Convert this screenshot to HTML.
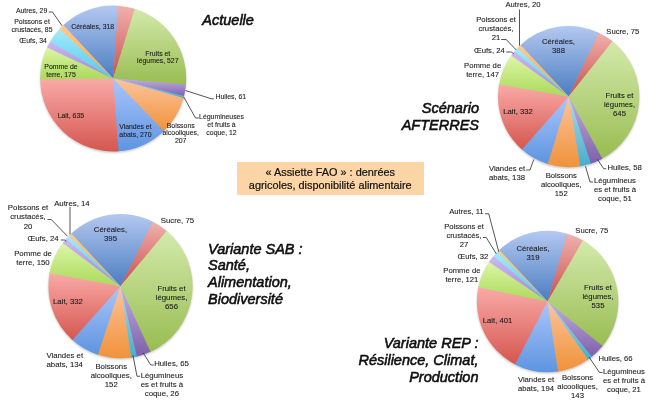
<!DOCTYPE html>
<html lang="fr"><head><meta charset="utf-8"><title>Assiette FAO</title>
<style>
html,body{margin:0;padding:0;background:#fff;}
body{width:649px;height:400px;overflow:hidden;position:relative;font-family:"Liberation Sans",sans-serif;}
svg{position:absolute;left:0;top:0;display:block;}
svg text{font-family:"Liberation Sans",sans-serif;fill:#1c1c1c;stroke:#1c1c1c;stroke-width:0.1px;}
svg text.t{font-style:italic;fill:#0c0c0c;stroke:#0c0c0c;stroke-width:0.55px;}
.box{position:absolute;left:237px;top:162px;width:186.5px;height:33px;background:#FBD5A6;color:#111;
 font-size:10.9px;line-height:12.5px;text-align:center;box-sizing:border-box;padding-top:4.4px;white-space:nowrap;-webkit-text-stroke:0.2px #111;}
</style></head><body>
<svg width="649" height="400" viewBox="0 0 649 400">
<defs>
<filter id="sh" x="-10%" y="-10%" width="120%" height="125%"><feGaussianBlur stdDeviation="1.0"/></filter>
<filter id="soft"><feGaussianBlur stdDeviation="0.35"/></filter>
<filter id="tb" x="-5%" y="-5%" width="110%" height="110%"><feGaussianBlur stdDeviation="0.3"/></filter>
<linearGradient id="gcer" x1="0" y1="0" x2="0" y2="1"><stop offset="0" stop-color="#B4C8F1"/><stop offset="1" stop-color="#4A7DC0"/></linearGradient>
<linearGradient id="gsuc" x1="0" y1="0" x2="0" y2="1"><stop offset="0" stop-color="#F1B1AD"/><stop offset="1" stop-color="#C94F4C"/></linearGradient>
<linearGradient id="gfru" x1="0" y1="0" x2="0" y2="1"><stop offset="0" stop-color="#D3EAAB"/><stop offset="1" stop-color="#98BC51"/></linearGradient>
<linearGradient id="ghui" x1="0" y1="0" x2="0" y2="1"><stop offset="0" stop-color="#C0AEE0"/><stop offset="1" stop-color="#7E5FAA"/></linearGradient>
<linearGradient id="gleg" x1="0" y1="0" x2="0" y2="1"><stop offset="0" stop-color="#A9DDEE"/><stop offset="1" stop-color="#46AECB"/></linearGradient>
<linearGradient id="gboi" x1="0" y1="0" x2="0" y2="1"><stop offset="0" stop-color="#FDC49C"/><stop offset="1" stop-color="#F0923A"/></linearGradient>
<linearGradient id="gvia" x1="0" y1="0" x2="0" y2="1"><stop offset="0" stop-color="#A9C6FB"/><stop offset="1" stop-color="#5E94E0"/></linearGradient>
<linearGradient id="glai" x1="0" y1="0" x2="0" y2="1"><stop offset="0" stop-color="#FAABA8"/><stop offset="1" stop-color="#D5564F"/></linearGradient>
<linearGradient id="gpom" x1="0" y1="0" x2="0" y2="1"><stop offset="0" stop-color="#DDF7A6"/><stop offset="1" stop-color="#ABD95C"/></linearGradient>
<linearGradient id="goeu" x1="0" y1="0" x2="0" y2="1"><stop offset="0" stop-color="#CDB8F2"/><stop offset="1" stop-color="#A585D6"/></linearGradient>
<linearGradient id="gpoi" x1="0" y1="0" x2="0" y2="1"><stop offset="0" stop-color="#A5EBFA"/><stop offset="1" stop-color="#55C8E8"/></linearGradient>
<linearGradient id="gaut" x1="0" y1="0" x2="0" y2="1"><stop offset="0" stop-color="#FFCB8D"/><stop offset="1" stop-color="#F9A348"/></linearGradient>
</defs>
<circle cx="113.2" cy="79.8" r="73.0" fill="#000" opacity="0.22" filter="url(#sh)"/>
<g filter="url(#soft)">
<path d="M113.20,78.50 L62.67,25.81 A73.0,73.0 0 0 1 119.13,5.74 Z" fill="url(#gcer)"/>
<path d="M113.20,78.50 L118.11,5.67 A73.0,73.0 0 0 1 135.66,9.04 Z" fill="url(#gsuc)"/>
<path d="M113.20,78.50 L134.69,8.74 A73.0,73.0 0 0 1 185.85,85.60 Z" fill="url(#gfru)"/>
<path d="M113.20,78.50 L185.95,84.58 A73.0,73.0 0 0 1 183.85,96.86 Z" fill="url(#ghui)"/>
<path d="M113.20,78.50 L184.10,95.88 A73.0,73.0 0 0 1 183.25,99.04 Z" fill="url(#gleg)"/>
<path d="M113.20,78.50 L183.53,98.06 A73.0,73.0 0 0 1 163.13,131.75 Z" fill="url(#gboi)"/>
<path d="M113.20,78.50 L163.87,131.05 A73.0,73.0 0 0 1 117.49,151.37 Z" fill="url(#gvia)"/>
<path d="M113.20,78.50 L118.51,151.31 A73.0,73.0 0 0 1 40.20,78.24 Z" fill="url(#glai)"/>
<path d="M113.20,78.50 L40.20,79.26 A73.0,73.0 0 0 1 47.58,46.51 Z" fill="url(#gpom)"/>
<path d="M113.20,78.50 L47.14,47.43 A73.0,73.0 0 0 1 50.63,40.90 Z" fill="url(#goeu)"/>
<path d="M113.20,78.50 L50.11,41.78 A73.0,73.0 0 0 1 60.27,28.23 Z" fill="url(#gpoi)"/>
<path d="M113.20,78.50 L59.57,28.97 A73.0,73.0 0 0 1 63.41,25.11 Z" fill="url(#gaut)"/>
</g>
<circle cx="568.7" cy="97.89999999999999" r="70.6" fill="#000" opacity="0.22" filter="url(#sh)"/>
<g filter="url(#soft)">
<path d="M568.70,96.60 L519.83,45.64 A70.6,70.6 0 0 1 599.54,33.09 Z" fill="url(#gcer)"/>
<path d="M568.70,96.60 L598.65,32.67 A70.6,70.6 0 0 1 613.19,41.79 Z" fill="url(#gsuc)"/>
<path d="M568.70,96.60 L612.43,41.17 A70.6,70.6 0 0 1 601.54,159.10 Z" fill="url(#gfru)"/>
<path d="M568.70,96.60 L602.41,158.63 A70.6,70.6 0 0 1 589.98,163.92 Z" fill="url(#ghui)"/>
<path d="M568.70,96.60 L590.91,163.61 A70.6,70.6 0 0 1 579.24,166.41 Z" fill="url(#gleg)"/>
<path d="M568.70,96.60 L580.22,166.25 A70.6,70.6 0 0 1 546.77,163.71 Z" fill="url(#gboi)"/>
<path d="M568.70,96.60 L547.71,164.01 A70.6,70.6 0 0 1 521.17,148.81 Z" fill="url(#gvia)"/>
<path d="M568.70,96.60 L521.91,149.46 A70.6,70.6 0 0 1 499.30,83.63 Z" fill="url(#glai)"/>
<path d="M568.70,96.60 L499.13,84.60 A70.6,70.6 0 0 1 511.87,54.71 Z" fill="url(#gpom)"/>
<path d="M568.70,96.60 L511.29,55.51 A70.6,70.6 0 0 1 515.10,50.65 Z" fill="url(#goeu)"/>
<path d="M568.70,96.60 L514.46,51.40 A70.6,70.6 0 0 1 518.16,47.30 Z" fill="url(#gpoi)"/>
<path d="M568.70,96.60 L517.48,48.01 A70.6,70.6 0 0 1 520.55,44.97 Z" fill="url(#gaut)"/>
</g>
<circle cx="120.5" cy="287.5" r="72.1" fill="#000" opacity="0.22" filter="url(#sh)"/>
<g filter="url(#soft)">
<path d="M120.50,286.20 L70.60,234.16 A72.1,72.1 0 0 1 153.68,222.19 Z" fill="url(#gcer)"/>
<path d="M120.50,286.20 L152.79,221.73 A72.1,72.1 0 0 1 167.44,231.47 Z" fill="url(#gsuc)"/>
<path d="M120.50,286.20 L166.67,230.82 A72.1,72.1 0 0 1 149.58,352.18 Z" fill="url(#gfru)"/>
<path d="M120.50,286.20 L150.50,351.76 A72.1,72.1 0 0 1 135.90,356.64 Z" fill="url(#ghui)"/>
<path d="M120.50,286.20 L136.88,356.41 A72.1,72.1 0 0 1 130.22,357.64 Z" fill="url(#gleg)"/>
<path d="M120.50,286.20 L131.22,357.50 A72.1,72.1 0 0 1 96.99,354.36 Z" fill="url(#gboi)"/>
<path d="M120.50,286.20 L97.94,354.68 A72.1,72.1 0 0 1 71.65,339.23 Z" fill="url(#gvia)"/>
<path d="M120.50,286.20 L72.40,339.91 A72.1,72.1 0 0 1 49.76,272.26 Z" fill="url(#glai)"/>
<path d="M120.50,286.20 L49.57,273.25 A72.1,72.1 0 0 1 63.36,242.23 Z" fill="url(#gpom)"/>
<path d="M120.50,286.20 L62.75,243.03 A72.1,72.1 0 0 1 66.76,238.13 Z" fill="url(#goeu)"/>
<path d="M120.50,286.20 L66.09,238.89 A72.1,72.1 0 0 1 69.81,234.92 Z" fill="url(#gpoi)"/>
<path d="M120.50,286.20 L69.10,235.63 A72.1,72.1 0 0 1 71.33,233.47 Z" fill="url(#gaut)"/>
</g>
<circle cx="547.6" cy="302.90000000000003" r="70.7" fill="#000" opacity="0.22" filter="url(#sh)"/>
<g filter="url(#soft)">
<path d="M547.60,301.60 L498.67,250.57 A70.7,70.7 0 0 1 568.09,233.93 Z" fill="url(#gcer)"/>
<path d="M547.60,301.60 L567.14,233.65 A70.7,70.7 0 0 1 583.72,240.82 Z" fill="url(#gsuc)"/>
<path d="M547.60,301.60 L582.87,240.33 A70.7,70.7 0 0 1 601.96,346.81 Z" fill="url(#gfru)"/>
<path d="M547.60,301.60 L602.58,346.04 A70.7,70.7 0 0 1 591.16,357.29 Z" fill="url(#ghui)"/>
<path d="M547.60,301.60 L591.93,356.67 A70.7,70.7 0 0 1 587.29,360.11 Z" fill="url(#gleg)"/>
<path d="M547.60,301.60 L588.10,359.55 A70.7,70.7 0 0 1 557.05,371.67 Z" fill="url(#gboi)"/>
<path d="M547.60,301.60 L558.03,371.53 A70.7,70.7 0 0 1 514.16,363.89 Z" fill="url(#gvia)"/>
<path d="M547.60,301.60 L515.03,364.35 A70.7,70.7 0 0 1 478.56,286.36 Z" fill="url(#glai)"/>
<path d="M547.60,301.60 L478.36,287.33 A70.7,70.7 0 0 1 489.58,261.21 Z" fill="url(#gpom)"/>
<path d="M547.60,301.60 L489.02,262.02 A70.7,70.7 0 0 1 494.05,255.43 Z" fill="url(#goeu)"/>
<path d="M547.60,301.60 L493.41,256.19 A70.7,70.7 0 0 1 498.28,250.95 Z" fill="url(#gpoi)"/>
<path d="M547.60,301.60 L497.58,251.64 A70.7,70.7 0 0 1 499.38,249.89 Z" fill="url(#gaut)"/>
</g>
<g fill="none" stroke="#2a2a2a" stroke-width="0.8">
<polyline points="48.75,12 52.5,12 62,25.75"/>
<polyline points="185.5,90.5 211.25,98.75 213.75,98.75"/>
<polyline points="183.75,97 195.5,118 198.75,118"/>
<polyline points="519.5,9.5 519.5,45.75"/>
<polyline points="501.25,39.5 506.25,39.5 516.25,50"/>
<polyline points="506.25,52 511.25,52 513.75,53.75"/>
<polyline points="526.25,170 530,170 533.75,159.5"/>
<polyline points="597.5,159.5 603.75,168.75 606.25,168.75"/>
<polyline points="585.5,166.25 590,182 593,182"/>
<polyline points="70,207 70,234.5"/>
<polyline points="47.5,219.5 51.25,219.5 67.5,236.25"/>
<polyline points="60.75,240 64.5,240 66.25,241.25"/>
<polyline points="143.25,353 150.75,365 153.75,365"/>
<polyline points="133,355.5 137,376.25 140,376.25"/>
<polyline points="485,213.75 488.75,213.75 498.75,251.75"/>
<polyline points="483,237.5 486.25,237.5 496.25,253.75"/>
<polyline points="589,357 599.5,372.5 602.5,372.5"/>
</g>
<g font-size="6.9" filter="url(#tb)">
<text x="31.6" y="12.50" text-anchor="middle">Autres, 29</text>
<text x="32.0" y="24.25" text-anchor="middle">Poissons et</text>
<text x="32.0" y="32.05" text-anchor="middle">crustacés, 85</text>
<text x="33.1" y="43.00" text-anchor="middle">Œufs, 34</text>
<text x="92.75" y="28.75" text-anchor="middle">Céréales, 318</text>
<text x="61.0" y="69.25" text-anchor="middle">Pomme de</text>
<text x="61.0" y="77.05" text-anchor="middle">terre, 175</text>
<text x="157.8" y="55.50" text-anchor="middle">Fruits et</text>
<text x="157.8" y="63.30" text-anchor="middle">légumes, 527</text>
<text x="230.75" y="99.25" text-anchor="middle">Huiles, 61</text>
<text x="221.5" y="118.90" text-anchor="middle">Légumineuses</text>
<text x="221.5" y="126.70" text-anchor="middle">et fruits à</text>
<text x="221.5" y="134.50" text-anchor="middle">coque, 12</text>
<text x="180.7" y="127.50" text-anchor="middle">Boissons</text>
<text x="180.7" y="135.30" text-anchor="middle">alcooliques,</text>
<text x="180.7" y="143.10" text-anchor="middle">207</text>
<text x="135.4" y="128.75" text-anchor="middle">Viandes et</text>
<text x="135.4" y="136.55" text-anchor="middle">abats, 270</text>
<text x="70.9" y="117.50" text-anchor="middle">Lait, 635</text>
</g>
<g font-size="7.7" filter="url(#tb)">
<text x="523.0" y="7.00" text-anchor="middle">Autres, 20</text>
<text x="496.0" y="22.00" text-anchor="middle">Poissons et</text>
<text x="496.0" y="31.20" text-anchor="middle">crustacés,</text>
<text x="496.0" y="40.40" text-anchor="middle">21</text>
<text x="489.4" y="53.00" text-anchor="middle">Œufs, 24</text>
<text x="482.6" y="68.00" text-anchor="middle">Pomme de</text>
<text x="482.6" y="77.20" text-anchor="middle">terre, 147</text>
<text x="558.5" y="43.75" text-anchor="middle">Céréales,</text>
<text x="558.5" y="52.95" text-anchor="middle">388</text>
<text x="622.75" y="34.00" text-anchor="middle">Sucre, 75</text>
<text x="619.5" y="98.00" text-anchor="middle">Fruits et</text>
<text x="619.5" y="107.20" text-anchor="middle">légumes,</text>
<text x="619.5" y="116.40" text-anchor="middle">645</text>
<text x="518.0" y="113.75" text-anchor="middle">Lait, 332</text>
<text x="507.0" y="170.75" text-anchor="middle">Viandes et</text>
<text x="507.0" y="179.95" text-anchor="middle">abats, 138</text>
<text x="561.25" y="177.50" text-anchor="middle">Boissons</text>
<text x="561.25" y="186.70" text-anchor="middle">alcooliques,</text>
<text x="561.25" y="195.90" text-anchor="middle">152</text>
<text x="624.6" y="170.00" text-anchor="middle">Huiles, 58</text>
<text x="615.0" y="182.50" text-anchor="middle">Légumineus</text>
<text x="615.0" y="191.70" text-anchor="middle">es et fruits à</text>
<text x="615.0" y="200.90" text-anchor="middle">coque, 51</text>
</g>
<g font-size="7.8" filter="url(#tb)">
<text x="71.9" y="205.50" text-anchor="middle">Autres, 14</text>
<text x="28.0" y="209.90" text-anchor="middle">Poissons et</text>
<text x="28.0" y="219.20" text-anchor="middle">crustacés,</text>
<text x="28.0" y="228.50" text-anchor="middle">20</text>
<text x="43.1" y="240.75" text-anchor="middle">Œufs, 24</text>
<text x="33.0" y="255.75" text-anchor="middle">Pomme de</text>
<text x="33.0" y="265.05" text-anchor="middle">terre, 150</text>
<text x="110.5" y="232.00" text-anchor="middle">Céréales,</text>
<text x="110.5" y="241.30" text-anchor="middle">395</text>
<text x="177.4" y="223.00" text-anchor="middle">Sucre, 75</text>
<text x="171.5" y="290.70" text-anchor="middle">Fruits et</text>
<text x="171.5" y="300.00" text-anchor="middle">légumes,</text>
<text x="171.5" y="309.30" text-anchor="middle">656</text>
<text x="68.0" y="303.50" text-anchor="middle">Lait, 332</text>
<text x="64.75" y="358.00" text-anchor="middle">Viandes et</text>
<text x="64.75" y="367.30" text-anchor="middle">abats, 134</text>
<text x="111.25" y="368.75" text-anchor="middle">Boissons</text>
<text x="111.25" y="378.05" text-anchor="middle">alcooliques,</text>
<text x="111.25" y="387.35" text-anchor="middle">152</text>
<text x="171.5" y="365.75" text-anchor="middle">Huiles, 65</text>
<text x="161.9" y="377.50" text-anchor="middle">Légumineus</text>
<text x="161.9" y="386.80" text-anchor="middle">es et fruits à</text>
<text x="161.9" y="396.10" text-anchor="middle">coque, 26</text>
</g>
<g font-size="7.7" filter="url(#tb)">
<text x="466.4" y="214.25" text-anchor="middle">Autres, 11</text>
<text x="464.0" y="228.50" text-anchor="middle">Poissons et</text>
<text x="464.0" y="237.50" text-anchor="middle">crustacés,</text>
<text x="464.0" y="246.50" text-anchor="middle">27</text>
<text x="473.0" y="259.25" text-anchor="middle">Œufs, 32</text>
<text x="461.9" y="273.00" text-anchor="middle">Pomme de</text>
<text x="461.9" y="282.00" text-anchor="middle">terre, 121</text>
<text x="533.0" y="250.60" text-anchor="middle">Céréales,</text>
<text x="533.0" y="259.60" text-anchor="middle">319</text>
<text x="591.75" y="233.25" text-anchor="middle">Sucre, 75</text>
<text x="598.0" y="289.50" text-anchor="middle">Fruits et</text>
<text x="598.0" y="298.50" text-anchor="middle">légumes,</text>
<text x="598.0" y="307.50" text-anchor="middle">535</text>
<text x="497.5" y="323.00" text-anchor="middle">Lait, 401</text>
<text x="536.0" y="382.00" text-anchor="middle">Viandes et</text>
<text x="536.0" y="391.00" text-anchor="middle">abats, 194</text>
<text x="577.5" y="380.00" text-anchor="middle">Boissons</text>
<text x="577.5" y="389.00" text-anchor="middle">alcooliques,</text>
<text x="577.5" y="398.00" text-anchor="middle">143</text>
<text x="615.5" y="360.75" text-anchor="middle">Huiles, 66</text>
<text x="624.0" y="373.75" text-anchor="middle">Légumineus</text>
<text x="624.0" y="382.75" text-anchor="middle">es et fruits à</text>
<text x="624.0" y="391.75" text-anchor="middle">coque, 21</text>
</g>
<g class="t" font-size="14.5" filter="url(#tb)">
<text class="t" x="202.3" y="25.10" text-anchor="start">Actuelle</text>
<text class="t" x="479.0" y="112.80" text-anchor="end">Scénario</text>
<text class="t" x="479.0" y="129.60" text-anchor="end">AFTERRES</text>
<text class="t" x="208.0" y="253.50" text-anchor="start">Variante SAB :</text>
<text class="t" x="208.0" y="270.30" text-anchor="start">Santé,</text>
<text class="t" x="208.0" y="287.10" text-anchor="start">Alimentation,</text>
<text class="t" x="208.0" y="303.90" text-anchor="start">Biodiversité</text>
<text class="t" x="478.5" y="348.30" text-anchor="end">Variante REP :</text>
<text class="t" x="478.5" y="365.10" text-anchor="end">Résilience, Climat,</text>
<text class="t" x="478.5" y="381.90" text-anchor="end">Production</text>
</g>
</svg>
<div class="box">« Assiette FAO » : denrées<br>agricoles, disponibilité alimentaire</div>
</body></html>
